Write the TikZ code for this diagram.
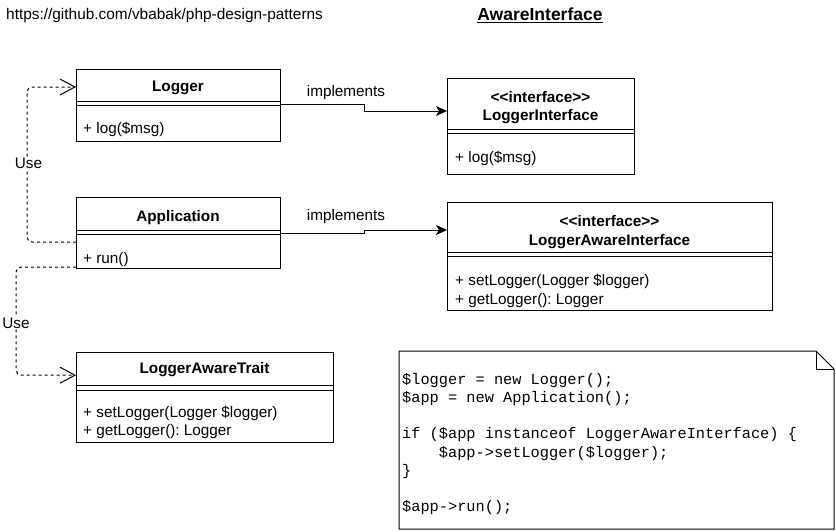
\documentclass[tikz,border=0pt]{standalone}
\usepackage{fontspec}
\setmainfont{Liberation Sans}
\setmonofont{Liberation Mono}
\usetikzlibrary{arrows.meta,calc}
\frenchspacing
\begin{document}
\begin{tikzpicture}[x=1pt,y=-1pt,
  box/.style={draw, line width=1pt, inner sep=0pt, outer sep=0pt, anchor=north west},
  sep/.style={line width=1pt},
  ctitle/.style={anchor=base, inner sep=0pt, font=\fontsize{15.3}{18}\selectfont\bfseries},
  meth/.style={anchor=base west, inner sep=0pt, font=\fontsize{15.3}{18}\selectfont},
  code/.style={anchor=base west, inner sep=0pt, font=\fontsize{15.3}{18}\selectfont\ttfamily},
  lbl/.style={inner sep=1pt, fill=white, font=\fontsize{15.3}{18}\selectfont},
  usearrow/.style={dashed, line width=1pt, dash pattern=on 3pt off 3pt, rounded corners=5pt, -{Straight Barb[length=15pt,width=16pt,line width=1pt]}},
  implarrow/.style={line width=1pt, -{Stealth[length=11pt,width=10pt,inset=3pt]}}
]
\useasboundingbox (0,0) rectangle (836,531);

% header texts
\node[meth, font=\fontsize{15.4}{18}\selectfont] (url) at (6,19) {https://github.com/vbabak/php-design-patterns};
\node[anchor=base, inner sep=0pt, font=\fontsize{17.5}{20}\selectfont\bfseries] (title) at (540,20.5) {\underline{AwareInterface}};

% Logger
\node[box, minimum width=204pt, minimum height=72pt] (logger) at (76,69) {};
\draw[sep] ($(logger.north west)+(0,32.5)$) -- ($(logger.north east)+(0,32.5)$)
           ($(logger.north west)+(0,36.5)$) -- ($(logger.north east)+(0,36.5)$);
\node[ctitle] (loggerT) at (178,91) {Logger};
\node[meth] (loggerM) at (83,133) {+ log(\$msg)};

% Application
\node[box, minimum width=204pt, minimum height=71pt] (app) at (76,197) {};
\draw[sep] ($(app.north west)+(0,33.7)$) -- ($(app.north east)+(0,33.7)$)
           ($(app.north west)+(0,37.5)$) -- ($(app.north east)+(0,37.5)$);
\node[ctitle] (appT) at (178,221.5) {Application};
\node[meth] (appM) at (83,263) {+ run()};

% LoggerAwareTrait
\node[box, minimum width=257pt, minimum height=89.5pt] (trait) at (76,352.5) {};
\draw[sep] ($(trait.north west)+(0,32.5)$) -- ($(trait.north east)+(0,32.5)$)
           ($(trait.north west)+(0,37.5)$) -- ($(trait.north east)+(0,37.5)$);
\node[ctitle] (traitT) at (204.5,373) {LoggerAwareTrait};
\node[meth] (traitM1) at (83,417) {+ setLogger(Logger \$logger)};
\node[meth] (traitM2) at (83,435) {+ getLogger(): Logger};

% LoggerInterface
\node[box, minimum width=187pt, minimum height=96pt] (li) at (447,78) {};
\draw[sep] ($(li.north west)+(0,51)$) -- ($(li.north east)+(0,51)$)
           ($(li.north west)+(0,55)$) -- ($(li.north east)+(0,55)$);
\node[ctitle] (liT1) at (540.5,102) {{<}{<}interface{>}{>}};
\node[ctitle] (liT2) at (540.5,120.5) {LoggerInterface};
\node[meth] (liM) at (455,162) {+ log(\$msg)};

% LoggerAwareInterface
\node[box, minimum width=325pt, minimum height=108pt] (lai) at (447,202) {};
\draw[sep] ($(lai.north west)+(0,50)$) -- ($(lai.north east)+(0,50)$)
           ($(lai.north west)+(0,54.7)$) -- ($(lai.north east)+(0,54.7)$);
\node[ctitle] (laiT1) at (609.5,226) {{<}{<}interface{>}{>}};
\node[ctitle] (laiT2) at (609.5,245) {LoggerAwareInterface};
\node[meth] (laiM1) at (455,285) {+ setLogger(Logger \$logger)};
\node[meth] (laiM2) at (455,304) {+ getLogger(): Logger};

% Note
\coordinate (noteNW) at (399,351);
\coordinate (noteSE) at (834,529);
\draw[line width=1pt, fill=white] (noteNW) -- (816,351) -- (834,369) -- (noteSE -| 834,0) -- (399,529) -- cycle;
\draw[line width=1pt] (816,351) -- (816,369) -- (834,369);
\node[code] (c1) at (402,384) {\$logger = new Logger();};
\node[code] (c2) at (402,402.3) {\$app = new Application();};
\node[code] (c3) at (402,438.9) {if (\$app instanceof LoggerAwareInterface) \{};
\node[code] (c4) at (402,457.2) {\hphantom{xxxx}\$app->setLogger(\$logger);};
\node[code] (c5) at (402,475.5) {\}};
\node[code] (c6) at (402,511) {\$app->run();};

% connectors
\draw[implarrow] (logger.east) ++(0,-1) -- (364,104) -- (364,111) -- ($(li.west)+(0,-15)$);
\node[lbl] (impl1) at (346,93) {implements};
\draw[implarrow] ($(app.east)+(0,0.5)$) -- (364,233) -- (364,230) -- ($(lai.west)+(0,-26)$);
\node[lbl] (impl2) at (346,217) {implements};

\draw[usearrow] ($(app.west)+(0,9.5)$) -- (27,242) -- (27,87) -- ($(logger.west)+(0,-18)$);
\node[lbl] (use1) at (28.5,163) {Use};
\draw[usearrow] ($(app.south west)+(0,-1)$) -- (16,267) -- (16,375) -- ($(trait.west)+(0,-22)$);
\node[lbl] (use2) at (16,323) {Use};
\end{tikzpicture}
\end{document}
